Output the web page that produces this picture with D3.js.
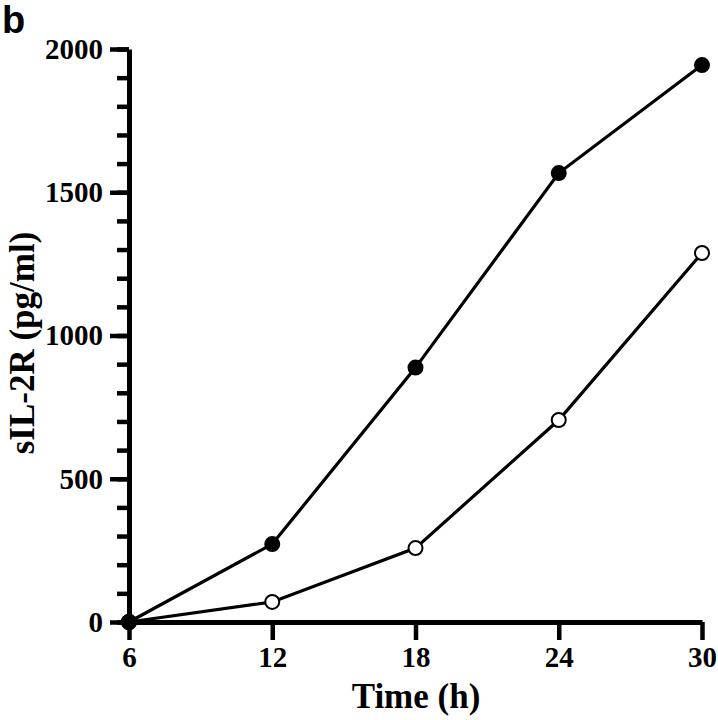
<!DOCTYPE html>
<html><head><meta charset="utf-8">
<script src="https://cdn.jsdelivr.net/npm/d3@7"></script>
<style>body{margin:0;background:#fff}</style>
</head><body>
<script>
const times = [6, 12, 18, 24, 30];
const filledValues = [0, 272, 888, 1567, 1944];
const openValues = [0, 70, 258, 705, 1288];
const xTicks = [6, 12, 18, 24, 30];
const yTicks = [0, 500, 1000, 1500, 2000];
const yMinorTicks = d3.range(0, 2001, 100);

const W = 718, H = 720;
const svg = d3.select("body").append("svg").attr("width", W).attr("height", H);
const x = d3.scaleLinear().domain([6, 30]).range([129, 702]);
const y = d3.scaleLinear().domain([0, 2000]).range([622, 49]);
const font = "'Liberation Serif', 'Times New Roman', serif";

// axes
const yMinor = d3.axisLeft(y).tickValues(yMinorTicks).tickSize(12).tickFormat("");
const gm = svg.append("g").attr("transform", "translate(129,0)").call(yMinor);
gm.select(".domain").remove();
gm.selectAll("line").attr("stroke", "#000").attr("stroke-width", 4.5);

const yAxis = d3.axisLeft(y).tickValues(yTicks).tickSize(19).tickSizeOuter(0).tickPadding(7).tickFormat(d3.format("d"));
const gy = svg.append("g").attr("transform", "translate(129,0)").call(yAxis);
gy.select(".domain").attr("stroke", "#000").attr("stroke-width", 5);
gy.selectAll("line").attr("stroke", "#000").attr("stroke-width", 4.5);
gy.selectAll("text").attr("font-family", font).attr("font-weight", "bold").attr("font-size", 29).attr("fill", "#000");

const xAxis = d3.axisBottom(x).tickValues(xTicks).tickSize(18).tickSizeOuter(0).tickPadding(6);
const gx = svg.append("g").attr("transform", "translate(0,622)").call(xAxis);
gx.select(".domain").attr("stroke", "#000").attr("stroke-width", 5);
gx.selectAll("line").attr("stroke", "#000").attr("stroke-width", 4.5);
gx.selectAll("text").attr("font-family", font).attr("font-weight", "bold").attr("font-size", 29).attr("fill", "#000");

// titles
svg.append("text").attr("x", 416).attr("y", 708).attr("text-anchor", "middle")
  .attr("font-family", font).attr("font-weight", "bold").attr("font-size", 35).text("Time (h)");
svg.append("text").attr("transform", "translate(34,343) rotate(-90)").attr("text-anchor", "middle")
  .attr("font-family", font).attr("font-weight", "bold").attr("font-size", 35).text("sIL-2R (pg/ml)");
svg.append("text").attr("x", 2).attr("y", 33).attr("font-family", "'Liberation Sans', Arial, sans-serif")
  .attr("font-weight", "bold").attr("font-size", 38).text("b");

// series
const line = d3.line().x(d => x(d[0])).y(d => y(d[1]));
const series = [
  {vals: filledValues, fill: "#000"},
  {vals: openValues, fill: "#fff"}
];
series.forEach(s => {
  const pts = times.map((t, i) => [t, s.vals[i]]);
  svg.append("path").datum(pts).attr("d", line).attr("fill", "none").attr("stroke", "#000").attr("stroke-width", 3.2);
  svg.selectAll(null).data(pts).enter().append("circle")
    .attr("cx", d => x(d[0])).attr("cy", d => y(d[1])).attr("r", 7)
    .attr("fill", s.fill).attr("stroke", "#000").attr("stroke-width", 2);
});
svg.append("circle").attr("cx", x(times[0])).attr("cy", y(filledValues[0])).attr("r", 8).attr("fill", "#000");
</script>
</body></html>
